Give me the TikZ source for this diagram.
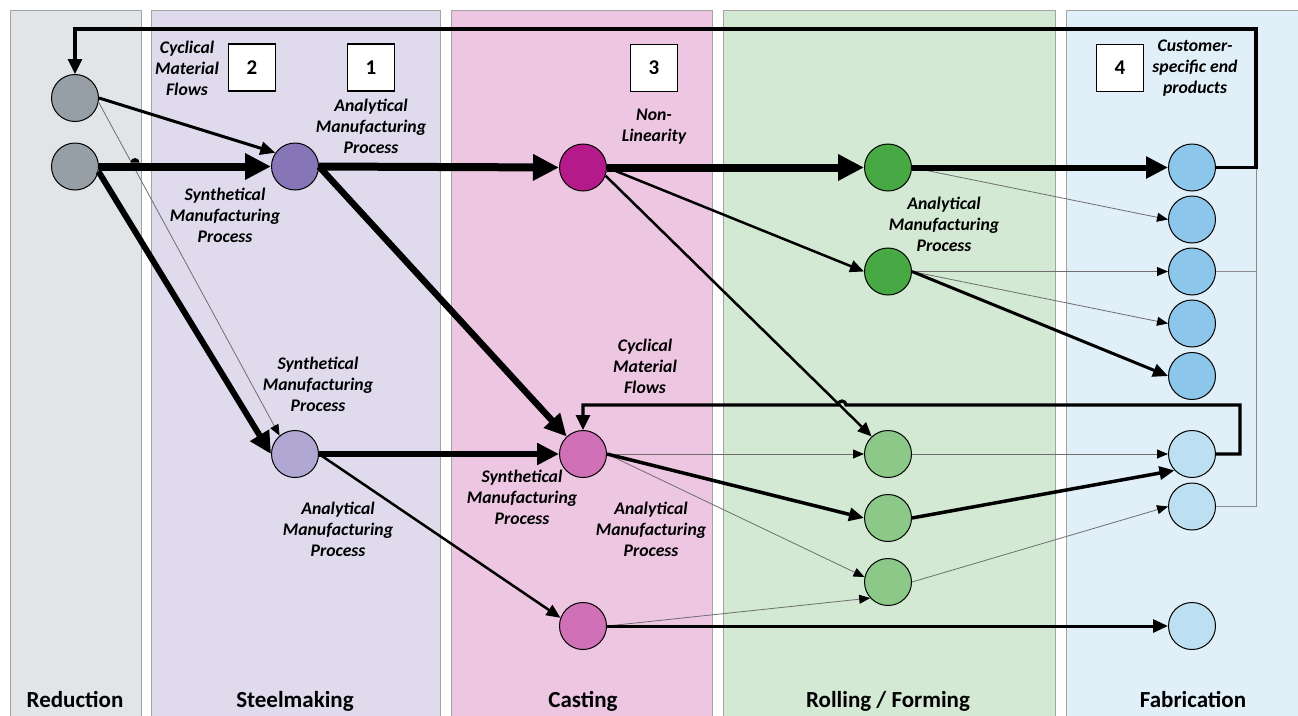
\documentclass[tikz,border=0pt]{standalone}
\usepackage{fontspec}
\setmainfont{Carlito}
\usetikzlibrary{arrows.meta}
\definecolor{bdr}{HTML}{A3A3A3}
\definecolor{bgR}{HTML}{E2E5E8}
\definecolor{bgS}{HTML}{DFDBEC}
\definecolor{bgC}{HTML}{EDC6E2}
\definecolor{bgG}{HTML}{D3E9D3}
\definecolor{bgF}{HTML}{E1EFF9}
\definecolor{nR}{HTML}{969FA6}
\definecolor{nSa}{HTML}{8676B8}
\definecolor{nSb}{HTML}{B0A8D3}
\definecolor{nCa}{HTML}{B51A8A}
\definecolor{nCb}{HTML}{D070B6}
\definecolor{nGa}{HTML}{47A844}
\definecolor{nGb}{HTML}{8CC888}
\definecolor{nBa}{HTML}{8DC6EB}
\definecolor{nBb}{HTML}{BDDFF2}
\definecolor{thingray}{HTML}{6E6E6E}
\begin{document}
\begin{tikzpicture}[x=1pt,y=-1pt,
  column/.style={draw=bdr,line width=0.8pt},
  proc/.style={circle,draw=black,line width=1pt,minimum size=47pt,inner sep=0pt},
  numbox/.style={draw=black,fill=white,line width=1.2pt,minimum size=47pt,inner sep=0pt,font=\fontsize{21}{21}\selectfont\bfseries},
  lbl/.style={align=center,inner sep=0pt,font=\fontsize{17.7}{21}\selectfont\bfseries\itshape},
  collbl/.style={anchor=base,inner sep=0pt,font=\fontsize{23}{23}\selectfont\bfseries},
  vthick/.style={line width=8pt,-{Triangle[length=26pt,width=25pt]}},
  thickf/.style={line width=6pt,-{Triangle[length=22pt,width=21pt]}},
  medf/.style={line width=3pt,-{Triangle[length=15pt,width=13pt]}},
  lightf/.style={line width=2.5pt,-{Triangle[length=14pt,width=12pt]}},
  thinf/.style={draw=thingray,line width=0.8pt,-{Triangle[length=11pt,width=9pt,fill=black,color=black]}},
  thinl/.style={draw=thingray!80,line width=0.8pt},
  fb/.style={line width=3.2pt,-{Triangle[length=15pt,width=14pt]}}
]
\useasboundingbox (0,0) rectangle (1298,715);
\clip (0,0) rectangle (1298,715);
\fill[white] (0,0) rectangle (1298,715);
% columns
\draw[column,fill=bgR] (10,10) rectangle (141,730);
\draw[column,fill=bgS] (151,10) rectangle (440,730);
\draw[column,fill=bgC] (451,10) rectangle (712,730);
\draw[column,fill=bgG] (723,10) rectangle (1055,730);
\draw[column,fill=bgF] (1066,10) rectangle (1320,730);
% column labels
\node[collbl] (lR) at (75,707) {Reduction};
\node[collbl] (lS) at (295,707) {Steelmaking};
\node[collbl] (lC) at (583,707) {Casting};
\node[collbl] (lG) at (888,707) {Rolling / Forming};
\node[collbl] (lF) at (1193,707) {Fabrication};
% number boxes
\node[numbox] (n2) at (252,67.5) {2};
\node[numbox] (n1) at (371,67.5) {1};
\node[numbox] (n3) at (654,68) {3};
\node[numbox] (n4) at (1120,68) {4};
% annotation labels
\node[lbl] (a1) at (187,68) {Cyclical\\Material\\Flows};
\node[lbl] (a2) at (371,126) {Analytical\\Manufacturing\\Process};
\node[lbl] (a3) at (225,215) {Synthetical\\Manufacturing\\Process};
\node[lbl] (a4) at (318,384) {Synthetical\\Manufacturing\\Process};
\node[lbl] (a5) at (338,529) {Analytical\\Manufacturing\\Process};
\node[lbl] (a6) at (654,126.5) {Non-\\Linearity};
\node[lbl] (a7) at (944,224) {Analytical\\Manufacturing\\Process};
\node[lbl] (a8) at (645,366) {Cyclical\\Material\\Flows};
\node[lbl] (a9) at (522,497) {Synthetical\\Manufacturing\\Process};
\node[lbl] (a10) at (651,529) {Analytical\\Manufacturing\\Process};
\node[lbl] (a11) at (1195,68) {Customer-\\specific end\\products};
% process nodes
\node[proc,fill=nR] (R1) at (75,98) {};
\node[proc,fill=nR] (R2) at (75,166.5) {};
\node[proc,fill=nSa] (S1) at (295,166.5) {};
\node[proc,fill=nSb] (S2) at (295,454) {};
\node[proc,fill=nCa] (C1) at (583,167.5) {};
\node[proc,fill=nCb] (C2) at (583,454) {};
\node[proc,fill=nCb] (C3) at (583,626) {};
\node[proc,fill=nGa] (G1) at (888,167.5) {};
\node[proc,fill=nGa] (G2) at (888,271.5) {};
\node[proc,fill=nGb] (G3) at (888,454) {};
\node[proc,fill=nGb] (G4) at (888,518) {};
\node[proc,fill=nGb] (G5) at (888,582) {};
\node[proc,fill=nBa] (B1) at (1192,167.5) {};
\node[proc,fill=nBa] (B2) at (1192,219.5) {};
\node[proc,fill=nBa] (B3) at (1192,271.5) {};
\node[proc,fill=nBa] (B4) at (1192,323.5) {};
\node[proc,fill=nBa] (B5) at (1192,376) {};
\node[proc,fill=nBb] (B6) at (1192,454) {};
\node[proc,fill=nBb] (B7) at (1192,506.5) {};
\node[proc,fill=nBb] (B8) at (1192,626) {};
% thin connectors
\draw[thinf] (R1.-10) -- (S2.130);
\draw[thinf] (C2.east) -- (G3.west);
\draw[thinf] (C2.east) -- (G5.168);
\draw[thinf] (C3.east) -- (G5.222);
\draw[thinf] (G1.east) -- (B2.west);
\draw[thinf] (G2.east) -- (B3.west);
\draw[thinf] (G2.east) -- (B4.west);
\draw[thinf] (G3.east) -- (B6.west);
\draw[thinf] (G5.east) -- (B7.west);
\draw[thinl] (B7.east) -- (1256,506.5) -- (1256,167.5);
\draw[thinl] (B3.east) -- (1256,271.5);
% heavy connectors
\draw[vthick] (R2.east) -- (S1.west);
\draw[vthick] (S1.east) -- (C1.west);
\draw[vthick] (C1.east) -- (G1.west);
\draw[thickf] (G1.east) -- (B1.west);
\draw[thickf] (R2.-12) -- (S2.west);
\draw[line width=6.5pt,-{Triangle[length=22pt,width=21pt]}] (S1.east) -- (C2.133);
\draw[thickf] (S2.east) -- (C2.west);
\draw[medf] (R1.east) -- (S1.145);
\draw[lightf] (S2.east) -- (C3.160);
\draw[lightf] (C1.east) -- (G2.west);
\draw[lightf] (C1.-20) -- (G3.133);
\draw[line width=3.5pt,-{Triangle[length=15pt,width=13pt]}] (C2.east) -- (G4.west);
\draw[line width=3.5pt,-{Triangle[length=15pt,width=13pt]}] (G4.east) -- (B6.223);
\draw[medf] (G2.east) -- (B5.west);
\draw[medf] (C3.east) -- (B8.west);
% bridge over thick line
\fill (130.5,162.5) arc[start angle=180,end angle=0,radius=4.5pt] -- cycle;
% feedback loops
\draw[fb] (B1.east) -- (1256,167.5) -- (1256,29) -- (75,29) -- (R1.north);
\draw[fb] (B6.east) -- (1240,454) -- (1240,405) -- (846,405)
  arc[start angle=0,end angle=180,radius=4pt] -- (583,405) -- (C2.north);
\end{tikzpicture}
\end{document}
